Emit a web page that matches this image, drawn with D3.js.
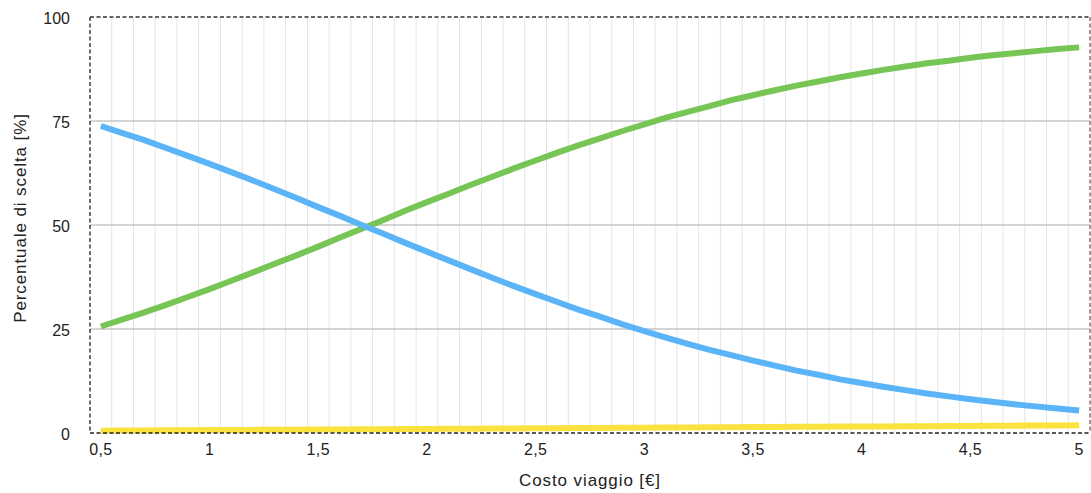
<!DOCTYPE html>
<html>
<head>
<meta charset="utf-8">
<script src="https://cdn.jsdelivr.net/npm/d3@7"></script>
<style>
  html, body { margin: 0; padding: 0; background: #fff; }
  svg { display: block; font-family: "Liberation Sans", Arial, sans-serif; }
</style>
</head>
<body>
<svg id="chart" width="1091" height="493"></svg>
<script>
// ---- DATA ----
const categories = [0.5,0.6,0.7,0.8,0.9,1.0,1.1,1.2,1.3,1.4,1.5,1.6,1.7,1.8,1.9,2.0,2.1,2.2,2.3,2.4,2.5,2.6,2.7,2.8,2.9,3.0,3.1,3.2,3.3,3.4,3.5,3.6,3.7,3.8,3.9,4.0,4.1,4.2,4.3,4.4,4.5,4.6,4.7,4.8,4.9,5.0];
const blueValues = [73.8,72.1,70.4,68.5,66.6,64.7,62.7,60.7,58.6,56.5,54.3,52.2,50.0,47.9,45.7,43.6,41.5,39.4,37.3,35.3,33.4,31.5,29.6,27.9,26.1,24.5,22.9,21.4,20.0,18.7,17.4,16.2,15.0,14.0,12.9,12.0,11.1,10.3,9.5,8.8,8.1,7.5,6.9,6.4,5.9,5.4];
const greenValues = [25.6,27.3,29.0,30.8,32.7,34.6,36.6,38.6,40.7,42.7,44.8,47.0,49.1,51.2,53.4,55.5,57.5,59.6,61.6,63.6,65.5,67.4,69.2,70.9,72.6,74.2,75.8,77.2,78.6,80.0,81.2,82.4,83.5,84.5,85.5,86.4,87.3,88.1,88.9,89.5,90.2,90.8,91.3,91.8,92.3,92.7];
const yellowValues = [0.55,0.58,0.61,0.64,0.67,0.70,0.72,0.75,0.78,0.81,0.84,0.87,0.90,0.93,0.96,0.99,1.01,1.04,1.07,1.10,1.13,1.16,1.19,1.22,1.25,1.28,1.30,1.33,1.36,1.39,1.42,1.45,1.48,1.51,1.54,1.57,1.59,1.62,1.65,1.68,1.71,1.74,1.77,1.80,1.83,1.86];
const xTickValues = [0.5,1.0,1.5,2.0,2.5,3.0,3.5,4.0,4.5,5.0];
const yTickValues = [0,25,50,75,100];
const xTitle = "Costo viaggio [€]";
const yTitle = "Percentuale di scelta [%]";

// ---- LAYOUT ----
const svg = d3.select("#chart");
const mLeft = 90, mRight = 1090, mTop = 17, mBottom = 433;

const x = d3.scaleBand().domain(categories).range([mLeft, mRight]).paddingInner(0).paddingOuter(0);
const y = d3.scaleLinear().domain([0, 100]).range([mBottom, mTop]);
const cx = d => x(d) + x.bandwidth() / 2;
const fmt = v => String(+v.toFixed(1)).replace(".", ",");

// vertical grid lines at band boundaries
svg.append("g").selectAll("line")
  .data(categories.slice(1))
  .join("line")
  .attr("x1", d => x(d)).attr("x2", d => x(d))
  .attr("y1", mTop).attr("y2", mBottom)
  .attr("stroke", "#e4e4e4").attr("stroke-width", 1);

// horizontal grid lines
svg.append("g").selectAll("line")
  .data(yTickValues.filter(v => v > 0 && v < 100))
  .join("line")
  .attr("x1", mLeft).attr("x2", mRight)
  .attr("y1", d => y(d)).attr("y2", d => y(d))
  .attr("stroke", "#c6c6c6").attr("stroke-width", 1.5);

// lines
const series = [
  {values: yellowValues, color: "#fbe33f"},
  {values: greenValues, color: "#77c555"},
  {values: blueValues, color: "#5ab4f7"}
];
const line = d3.line().x((d, i) => cx(categories[i])).y(d => y(d));
svg.append("g").selectAll("path")
  .data(series)
  .join("path")
  .attr("d", s => line(s.values))
  .attr("fill", "none")
  .attr("stroke", s => s.color)
  .attr("stroke-width", 6)
  .attr("stroke-linecap", "butt")
  .attr("stroke-linejoin", "round");

// dashed frame
const frame = svg.append("g").attr("fill", "none").attr("stroke-dasharray", "4,2.5").attr("stroke-width", 1.3);
frame.append("line").attr("x1", mLeft).attr("x2", mRight).attr("y1", mTop).attr("y2", mTop).attr("stroke", "#333");
frame.append("line").attr("x1", mLeft).attr("x2", mLeft).attr("y1", mTop).attr("y2", mBottom).attr("stroke", "#222");
frame.append("line").attr("x1", mLeft).attr("x2", mRight).attr("y1", mBottom).attr("y2", mBottom).attr("stroke", "#222");
frame.append("line").attr("x1", mRight).attr("x2", mRight).attr("y1", mTop).attr("y2", mBottom).attr("stroke", "#666");

// x axis labels
const xAxis = d3.axisBottom(x).tickValues(xTickValues).tickFormat(fmt).tickSize(0).tickPadding(11);
const gx = svg.append("g").attr("transform", `translate(0,${mBottom})`).call(xAxis);
gx.select(".domain").remove();
gx.selectAll("text").attr("font-size", 16).attr("fill", "#222")
  .attr("letter-spacing", 0.4)
  .attr("font-family", "Liberation Sans, Arial, sans-serif");

// y axis labels
const yAxis = d3.axisLeft(y).tickValues(yTickValues).tickFormat(d3.format("d")).tickSize(0).tickPadding(20);
const gy = svg.append("g").attr("transform", `translate(${mLeft},0)`).call(yAxis);
gy.select(".domain").remove();
gy.selectAll("text").attr("font-size", 16).attr("fill", "#222").attr("dy", "0.42em")
  .attr("font-family", "Liberation Sans, Arial, sans-serif");

// titles
svg.append("text").attr("x", 590).attr("y", 486).attr("text-anchor", "middle")
  .attr("font-size", 17).attr("letter-spacing", 0.9).attr("fill", "#222").text(xTitle);
svg.append("text").attr("transform", `translate(26,218) rotate(-90)`)
  .attr("text-anchor", "middle").attr("font-size", 17).attr("letter-spacing", 0.9)
  .attr("fill", "#222").text(yTitle);
</script>
</body>
</html>
